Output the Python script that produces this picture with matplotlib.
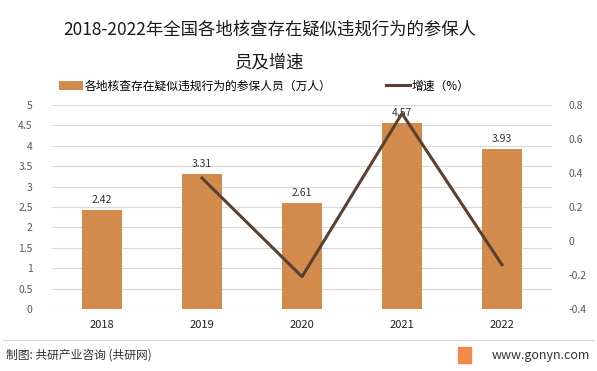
import matplotlib
matplotlib.use("Agg")
from matplotlib import pyplot as plt
import numpy as np

plt.rcParams['font.family'] = ['Noto Sans CJK SC', 'DejaVu Sans']

years = ['2018', '2019', '2020', '2021', '2022']
people = [2.42, 3.31, 2.61, 4.57, 3.93]
growth = [None, 0.37, -0.21, 0.75, -0.14]

bar_color = '#d38b4d'
line_color = '#5a4030'

fig = plt.figure(figsize=(5.97, 3.71), dpi=100)
ax = fig.add_axes([52 / 597, 1 - 309 / 371, 500 / 597, 204 / 371])
ax2 = ax.twinx()

x = np.arange(len(years))
bars = ax.bar(x, people, width=0.4, color=bar_color, zorder=2,
              label='各地核查存在疑似违规行为的参保人员（万人）')
for xi, v in zip(x, people):
    ax.text(xi, v + 0.12, f'{v:.2f}', ha='center', va='bottom', fontsize=7.5, color='#333333')

gx = [xi for xi, g in zip(x, growth) if g is not None]
gy = [g for g in growth if g is not None]
line, = ax2.plot(gx, gy, color=line_color, lw=2.2, label='增速（%）')

ax.set_xlim(-0.5, 4.5)
ax.set_ylim(0, 5)
ax.set_yticks(np.arange(0, 5.01, 0.5))
ax.set_yticklabels(['0', '0.5', '1', '1.5', '2', '2.5', '3', '3.5', '4', '4.5', '5'])
ax2.set_ylim(-0.4, 0.8)
ax2.set_yticks([-0.4, -0.2, 0, 0.2, 0.4, 0.6, 0.8])
ax2.set_yticklabels(['-0.4', '-0.2', '0', '0.2', '0.4', '0.6', '0.8'])

ax.set_xticks(x)
ax.set_xticklabels(years, fontsize=8, color='#222222')
ax.grid(axis='y', color='#d9d9d9', lw=0.8, zorder=0)
ax.set_axisbelow(True)
for a in (ax, ax2):
    for s in a.spines.values():
        s.set_visible(False)
    a.tick_params(length=0)
ax.tick_params(axis='y', labelsize=7.5, labelcolor='#595959', pad=14)
ax.tick_params(axis='x', pad=8)
ax2.tick_params(axis='y', labelsize=7.5, labelcolor='#595959', pad=12)

fig.text(270 / 597, 1 - 30 / 371, '2018-2022年全国各地核查存在疑似违规行为的参保人',
         ha='center', va='center', fontsize=12.5, color='#1a1a1a')
fig.text(270 / 597, 1 - 62 / 371, '员及增速', ha='center', va='center', fontsize=12.5,
         color='#1a1a1a')

fig.legend(handles=[bars, line], loc='center left', bbox_to_anchor=(59 / 597, 1 - 86 / 371),
           ncol=2, frameon=False, fontsize=8.5, columnspacing=4.6, handlelength=2.0,
           handletextpad=0.2, borderaxespad=0, borderpad=0)

fig.add_artist(plt.Line2D([0.005, 0.995], [1 - 340 / 371, 1 - 340 / 371],
                          color='#d9d9d9', lw=0.8))
fig.text(6 / 597, 1 - 355 / 371, '制图: 共研产业咨询 (共研网)', ha='left', va='center',
         fontsize=8.5, color='#333333')
fig.text(590 / 597, 1 - 355 / 371, 'www.gonyn.com', ha='right', va='center',
         fontsize=9, color='#333333')
fig.patches.append(plt.Rectangle((458 / 597, 1 - 363 / 371), 13 / 597, 16 / 371,
                                 transform=fig.transFigure, color='#f08a4b', figure=fig))

fig.savefig('out.png', dpi=100)
